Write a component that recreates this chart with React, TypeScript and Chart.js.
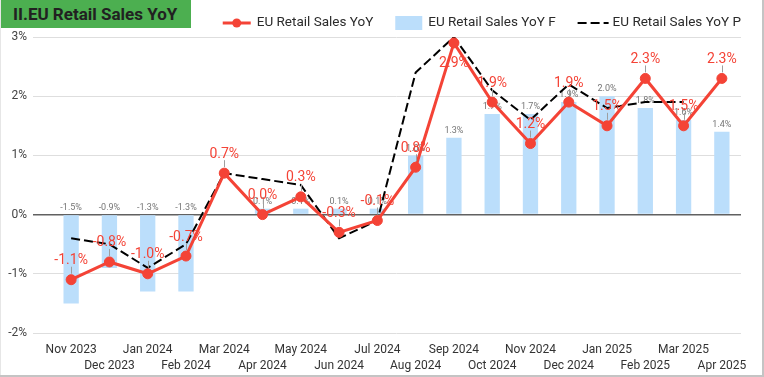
import React, { useEffect, useRef } from 'react';
import { Chart, registerables } from 'chart.js';

Chart.register(...registerables);

const chartTitle = 'II.EU Retail Sales YoY';
const categories = [
  'Nov 2023', 'Dec 2023', 'Jan 2024', 'Feb 2024', 'Mar 2024', 'Apr 2024',
  'May 2024', 'Jun 2024', 'Jul 2024', 'Aug 2024', 'Sep 2024', 'Oct 2024',
  'Nov 2024', 'Dec 2024', 'Jan 2025', 'Feb 2025', 'Mar 2025', 'Apr 2025',
];
const seriesNames = ['EU Retail Sales YoY', 'EU Retail Sales YoY F', 'EU Retail Sales YoY P'];
const actualValues = [-1.1, -0.8, -1.0, -0.7, 0.7, 0.0, 0.3, -0.3, -0.1, 0.8, 2.9, 1.9, 1.2, 1.9, 1.5, 2.3, 1.5, 2.3];
const forecastValues: (number | null)[] = [-1.5, -0.9, -1.3, -1.3, null, 0.1, 0.1, 0.1, 0.1, 1.0, 1.3, 1.7, 1.7, 1.9, 2.0, 1.8, 1.6, 1.4];
const previousValues: (number | null)[] = [-0.4, -0.5, -0.9, -0.5, 0.7, 0.6, 0.5, -0.4, -0.1, 2.4, 3.0, 2.1, 1.6, 2.2, 1.8, 1.9, 1.9, null];
const yMin = -2;
const yMax = 3;
const yStep = 1;

const RED = '#F44336';
const BLUE = '#BBDEFB';
const FONT = 'Roboto';

const fmt = (v: number) => v.toFixed(1) + '%';

const customPlugin = {
  id: 'customDraw',
  beforeDraw(chart: any) {
    const ctx = chart.ctx;
    ctx.save();
    ctx.fillStyle = '#ffffff';
    ctx.fillRect(0, 0, chart.width, chart.height);
    ctx.restore();
  },
  afterDatasetDraw(chart: any, args: any) {
    if (args.index !== 1) return;
    const ctx = chart.ctx;
    const meta = chart.getDatasetMeta(1);
    const zeroY = chart.scales.y.getPixelForValue(0);
    ctx.save();
    ctx.font = `9px ${FONT}`;
    ctx.fillStyle = '#757575';
    ctx.textAlign = 'center';
    ctx.textBaseline = 'middle';
    meta.data.forEach((el: any, i: number) => {
      const v = forecastValues[i];
      if (v == null) return;
      const top = Math.min(el.y, zeroY);
      ctx.fillText(fmt(v), el.x, top - 7);
    });
    ctx.restore();
  },
  afterDatasetsDraw(chart: any) {
    const ctx = chart.ctx;
    const meta = chart.getDatasetMeta(0);
    const area = chart.chartArea;
    ctx.save();
    meta.data.forEach((pt: any, i: number) => {
      const v = actualValues[i];
      ctx.font = `14px ${FONT}`;
      ctx.fillStyle = RED;
      ctx.textAlign = 'center';
      ctx.textBaseline = 'middle';
      if (pt.y - 19 - 8 < area.top) {
        ctx.fillText(fmt(v), pt.x, pt.y + 21);
        return;
      }
      ctx.strokeStyle = '#9e9e9e';
      ctx.lineWidth = 1;
      ctx.beginPath();
      ctx.moveTo(Math.round(pt.x) + 0.5, pt.y - 13);
      ctx.lineTo(Math.round(pt.x) + 0.5, pt.y - 6);
      ctx.stroke();
      ctx.fillText(fmt(v), pt.x, pt.y - 19);
    });
    ctx.restore();
  },
  afterDraw(chart: any) {
    const ctx = chart.ctx;
    const area = chart.chartArea;
    ctx.save();
    // legend
    ctx.font = `13.5px ${FONT}`;
    ctx.textBaseline = 'middle';
    ctx.textAlign = 'left';
    const cy = 23;
    const specs = [
      { w: 28, gap: 6 },
      { w: 27, gap: 6 },
      { w: 31, gap: 4 },
    ];
    let x = area.right;
    for (let k = 2; k >= 0; k--) {
      const label = seriesNames[k];
      const tw = ctx.measureText(label).width;
      const tx = x - tw;
      ctx.fillStyle = '#2b2b2b';
      ctx.fillText(label, tx, cy);
      const mEnd = tx - specs[k].gap;
      const mStart = mEnd - specs[k].w;
      if (k === 0) {
        ctx.strokeStyle = RED;
        ctx.lineWidth = 3;
        ctx.setLineDash([]);
        ctx.beginPath();
        ctx.moveTo(mStart, cy);
        ctx.lineTo(mEnd, cy);
        ctx.stroke();
        ctx.fillStyle = RED;
        ctx.beginPath();
        ctx.arc((mStart + mEnd) / 2, cy, 4.5, 0, Math.PI * 2);
        ctx.fill();
      } else if (k === 1) {
        ctx.fillStyle = BLUE;
        ctx.fillRect(mStart, cy - 7, specs[k].w, 14);
      } else {
        ctx.strokeStyle = '#000000';
        ctx.lineWidth = 2;
        ctx.setLineDash([9, 4]);
        ctx.beginPath();
        ctx.moveTo(mStart, cy);
        ctx.lineTo(mEnd, cy);
        ctx.stroke();
        ctx.setLineDash([]);
      }
      x = mStart - 22;
    }
    // border
    ctx.strokeStyle = '#e6e6e6';
    ctx.lineWidth = 1;
    ctx.beginPath();
    ctx.moveTo(0.5, 0);
    ctx.lineTo(0.5, chart.height);
    ctx.stroke();
    ctx.strokeStyle = '#c4c4c4';
    ctx.lineWidth = 2;
    ctx.beginPath();
    ctx.moveTo(chart.width - 1, 0);
    ctx.lineTo(chart.width - 1, chart.height - 1);
    ctx.lineTo(0, chart.height - 1);
    ctx.stroke();
    ctx.restore();
  },
};

export default function App() {
  const canvasRef = useRef<HTMLCanvasElement | null>(null);

  useEffect(() => {
    document.body.style.margin = '0';
    const canvas = canvasRef.current;
    if (!canvas) return;
    const chart = new Chart(canvas, {
      type: 'bar',
      data: {
        labels: categories,
        datasets: [
          {
            type: 'line',
            label: seriesNames[0],
            data: actualValues,
            borderColor: RED,
            backgroundColor: RED,
            borderWidth: 3,
            pointRadius: 5,
            pointBorderWidth: 1,
            pointBackgroundColor: RED,
            pointBorderColor: RED,
            tension: 0,
            order: 0,
          } as any,
          {
            type: 'bar',
            label: seriesNames[1],
            data: forecastValues,
            backgroundColor: BLUE,
            borderWidth: 0,
            barPercentage: 0.4,
            categoryPercentage: 1,
            order: 2,
          } as any,
          {
            type: 'line',
            label: seriesNames[2],
            data: previousValues,
            borderColor: '#000000',
            borderWidth: 2,
            borderDash: [9, 4],
            pointRadius: 0,
            tension: 0,
            fill: false,
            order: 1,
          } as any,
        ],
      },
      options: {
        responsive: false,
        animation: false,
        devicePixelRatio: 1,
        layout: { padding: { top: 37, right: 23, left: 0, bottom: 0 } },
        plugins: {
          legend: { display: false },
          tooltip: { enabled: false },
          title: { display: false },
        },
        scales: {
          x: {
            grid: { display: false, drawTicks: false },
            border: { display: false },
            ticks: {
              autoSkip: false,
              maxRotation: 0,
              minRotation: 0,
              padding: 9,
              color: '#333333',
              font: { family: FONT, size: 12, lineHeight: 1.35 },
              callback: (_v: any, i: number) => (i % 2 === 0 ? [categories[i], ''] : ['', categories[i]]),
            },
            afterFit: (s: any) => {
              s.height = 44;
            },
          },
          y: {
            min: yMin,
            max: yMax,
            ticks: {
              stepSize: yStep,
              padding: 6,
              color: '#444444',
              font: { family: FONT, size: 12 },
              callback: (v: any) => v + '%',
            },
            grid: {
              color: (c: any) => (c.tick && c.tick.value === 0 ? '#616161' : '#dedede'),
              lineWidth: (c: any) => (c.tick && c.tick.value === 0 ? 1.5 : 1),
              tickLength: 19,
            },
            border: { display: false },
            afterFit: (s: any) => {
              s.width = 52;
            },
          },
        },
      } as any,
      plugins: [customPlugin],
    });
    return () => chart.destroy();
  }, []);

  return (
    <div style={{ position: 'absolute', left: 0, top: 0, width: 764, height: 377 }}>
      <canvas ref={canvasRef} width={764} height={377} style={{ display: 'block' }} />
      <div
        style={{
          position: 'absolute',
          left: 1,
          top: 0,
          width: 190,
          height: 28,
          background: '#4CAF50',
          color: '#212121',
          fontFamily: FONT,
          fontWeight: 700,
          fontSize: 17,
          lineHeight: '28px',
          paddingLeft: 12,
          boxSizing: 'border-box',
          whiteSpace: 'nowrap',
        }}
      >
        {chartTitle}
      </div>
    </div>
  );
}
